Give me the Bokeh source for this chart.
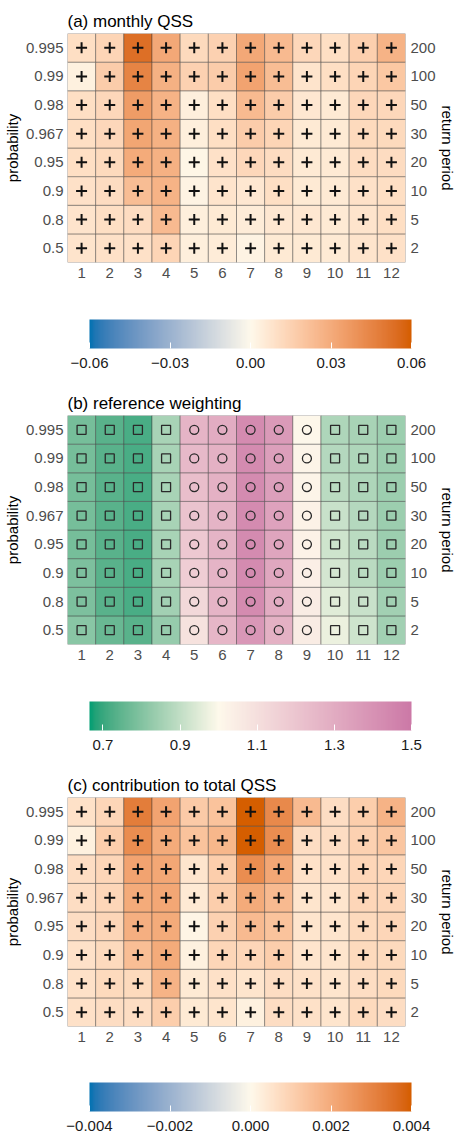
import numpy as np
from bokeh.plotting import figure
from bokeh.models import (FactorRange, ColumnDataSource, LinearColorMapper, ColorBar,
                          FixedTicker, CategoricalAxis, Title)
from bokeh.transform import transform
from bokeh.layouts import column
from bokeh.embed import file_html
from bokeh.resources import INLINE

# ---------------- data ----------------
months = ["1", "2", "3", "4", "5", "6", "7", "8", "9", "10", "11", "12"]
probabilities = ["0.5", "0.8", "0.9", "0.95", "0.967", "0.98", "0.99", "0.995"]
return_periods = ["2", "5", "10", "20", "30", "50", "100", "200"]

# rows follow `probabilities` (0.5 first), columns follow `months`
monthly_qss = [
    [0.008, 0.009, 0.009, 0.014, 0.004, 0.005, 0.002, 0.006, 0.006, 0.006, 0.008, 0.009],
    [0.008, 0.010, 0.011, 0.024, 0.004, 0.006, 0.005, 0.007, 0.007, 0.006, 0.008, 0.010],
    [0.009, 0.011, 0.023, 0.027, 0.002, 0.008, 0.007, 0.010, 0.006, 0.006, 0.009, 0.010],
    [0.010, 0.012, 0.030, 0.028, 0.001, 0.009, 0.013, 0.011, 0.006, 0.006, 0.011, 0.011],
    [0.010, 0.013, 0.032, 0.028, 0.004, 0.010, 0.017, 0.014, 0.006, 0.006, 0.012, 0.012],
    [0.010, 0.013, 0.036, 0.027, 0.004, 0.010, 0.024, 0.017, 0.007, 0.006, 0.013, 0.013],
    [0.003, 0.017, 0.045, 0.028, 0.015, 0.017, 0.033, 0.023, 0.008, 0.010, 0.014, 0.019],
    [0.010, 0.014, 0.053, 0.031, 0.012, 0.015, 0.031, 0.024, 0.013, 0.010, 0.016, 0.027],
]

reference_weighting = [
    [0.81, 0.76, 0.74, 0.83, 1.09, 1.26, 1.38, 1.28, 1.05, 0.97, 0.92, 0.85],
    [0.79, 0.74, 0.72, 0.85, 1.13, 1.27, 1.43, 1.30, 1.05, 0.95, 0.91, 0.85],
    [0.79, 0.74, 0.72, 0.86, 1.17, 1.27, 1.43, 1.32, 1.04, 0.93, 0.89, 0.84],
    [0.78, 0.74, 0.72, 0.86, 1.19, 1.27, 1.43, 1.33, 1.03, 0.92, 0.89, 0.84],
    [0.78, 0.74, 0.72, 0.86, 1.21, 1.27, 1.43, 1.34, 1.03, 0.91, 0.88, 0.84],
    [0.78, 0.74, 0.72, 0.86, 1.23, 1.28, 1.43, 1.35, 1.02, 0.89, 0.87, 0.84],
    [0.78, 0.74, 0.72, 0.86, 1.25, 1.28, 1.43, 1.35, 1.02, 0.88, 0.87, 0.84],
    [0.78, 0.74, 0.72, 0.86, 1.27, 1.30, 1.43, 1.37, 1.01, 0.87, 0.86, 0.84],
]

contribution_qss = [
    [0.0006, 0.0007, 0.0007, 0.0011, 0.0004, 0.0005, 0.0002, 0.0007, 0.0006, 0.0005, 0.0008, 0.0007],
    [0.0006, 0.0008, 0.0008, 0.0018, 0.0004, 0.0006, 0.0005, 0.0007, 0.0006, 0.0005, 0.0007, 0.0008],
    [0.0006, 0.0008, 0.0015, 0.0020, 0.0002, 0.0009, 0.0009, 0.0011, 0.0005, 0.0005, 0.0008, 0.0008],
    [0.0007, 0.0009, 0.0019, 0.0020, 0.0001, 0.0010, 0.0016, 0.0014, 0.0005, 0.0005, 0.0008, 0.0009],
    [0.0007, 0.0009, 0.0020, 0.0021, 0.0004, 0.0011, 0.0020, 0.0016, 0.0005, 0.0005, 0.0009, 0.0009],
    [0.0007, 0.0009, 0.0022, 0.0021, 0.0005, 0.0011, 0.0028, 0.0021, 0.0006, 0.0006, 0.0009, 0.0009],
    [0.0002, 0.0011, 0.0028, 0.0020, 0.0014, 0.0017, 0.0040, 0.0028, 0.0007, 0.0007, 0.0010, 0.0013],
    [0.0006, 0.0009, 0.0032, 0.0022, 0.0012, 0.0014, 0.0040, 0.0029, 0.0016, 0.0007, 0.0011, 0.0018],
]

qss_ticks = [-0.06, -0.03, 0.0, 0.03, 0.06]
qss_labels = ["\u22120.06", "\u22120.03", "0.00", "0.03", "0.06"]
weight_ticks = [0.7, 0.9, 1.1, 1.3, 1.5]
weight_labels = ["0.7", "0.9", "1.1", "1.3", "1.5"]
contrib_ticks = [-0.004, -0.002, 0.0, 0.002, 0.004]
contrib_labels = ["\u22120.004", "\u22120.002", "0.000", "0.002", "0.004"]

# ---------------- colour helpers (Lab interpolation) ----------------
_M = np.array([[0.4124564, 0.3575761, 0.1804375],
               [0.2126729, 0.7151522, 0.0721750],
               [0.0193339, 0.1191920, 0.9503041]])
_MI = np.linalg.inv(_M)
_WHITE = np.array([0.95047, 1.0, 1.08883])


def hex_to_lab(h):
    h = h.lstrip("#")
    rgb = np.array([int(h[i:i + 2], 16) / 255 for i in (0, 2, 4)])
    lin = np.where(rgb <= 0.04045, rgb / 12.92, ((rgb + 0.055) / 1.055) ** 2.4)
    t = (_M @ lin) / _WHITE
    d = 6 / 29
    f = np.where(t > d ** 3, np.cbrt(t), t / (3 * d * d) + 4 / 29)
    return np.array([116 * f[1] - 16, 500 * (f[0] - f[1]), 200 * (f[1] - f[2])])


def lab_to_hex(lab):
    L, a, b = lab
    fy = (L + 16) / 116
    f = np.array([fy + a / 500, fy, fy - b / 200])
    d = 6 / 29
    t = np.where(f > d, f ** 3, 3 * d * d * (f - 4 / 29))
    lin = np.clip(_MI @ (t * _WHITE), 0, 1)
    rgb = np.where(lin <= 0.0031308, 12.92 * lin, 1.055 * lin ** (1 / 2.4) - 0.055)
    rgb = np.clip(rgb, 0, 1)
    return "#%02x%02x%02x" % tuple(int(round(c * 255)) for c in rgb)


def palette(stops, n=256):
    pos = [s[0] for s in stops]
    labs = [hex_to_lab(s[1]) for s in stops]
    out = []
    for i in range(n):
        t = i / (n - 1)
        k = 0
        while k < len(pos) - 2 and t > pos[k + 1]:
            k += 1
        u = (t - pos[k]) / (pos[k + 1] - pos[k])
        out.append(lab_to_hex(labs[k] * (1 - u) + labs[k + 1] * u))
    return out


MID = "#FEF9EB"
div_pal = palette([(0, "#0072B2"), (0.5, MID), (1, "#D55E00")])
w_low, w_high = 0.665, 1.5
w_pal = palette([(0, "#009E73"), ((1 - w_low) / (w_high - w_low), MID), (1, "#CC79A7")])

qss_mapper = LinearColorMapper(palette=div_pal, low=-0.06, high=0.06)
w_mapper = LinearColorMapper(palette=w_pal, low=w_low, high=w_high)
c_mapper = LinearColorMapper(palette=div_pal, low=-0.004, high=0.004)

FONT = "Liberation Sans"
W = 453
FL, FW, FH = 66, 338, 229      # frame left border, frame width, frame height
FR = W - FL - FW
BAR_X = 88                     # colour bar left edge inside the figure


def make_source(values):
    xs, ys, vs, mk = [], [], [], []
    for r, prob in enumerate(probabilities):
        for c, m in enumerate(months):
            xs.append(m)
            ys.append(prob)
            v = values[r][c]
            vs.append(v)
            mk.append("square" if v < 1 else "circle")
    return ColumnDataSource(dict(m=xs, p=ys, v=vs, mk=mk))


def panel(title, values, mapper, kind, ticks, labels, top, bottom, bar_gap):
    p = figure(frame_width=FW, frame_height=FH, title=title,
               x_range=FactorRange(factors=months), y_range=FactorRange(factors=probabilities),
               output_backend="svg", toolbar_location=None,
               min_border_top=top, min_border_bottom=bottom, min_border_left=FL, min_border_right=FR)
    p.extra_y_ranges = {"rp": FactorRange(factors=return_periods)}
    p.outline_line_color = None
    p.grid.visible = False
    p.title.text_font = FONT
    p.title.text_font_size = "17px"
    p.title.text_font_style = "normal"
    p.title.text_color = "black"
    p.title.align = "left"
    p.title.standoff = 6
    p.title.offset = 0

    src = make_source(values)
    p.rect("m", "p", 1, 1, source=src, fill_color=transform("v", mapper),
           line_color="#3a3a3a", line_alpha=0.55, line_width=0.8)
    if kind == "cross":
        p.scatter("m", "p", source=src, marker="cross", size=11, line_width=2, line_color="#111111")
    else:
        p.scatter("m", "p", source=src, marker="mk", size=9, fill_color=None,
                  line_color="#2a2a2a", line_width=1.3)

    right = CategoricalAxis(y_range_name="rp")
    p.add_layout(right, "right")
    p.yaxis[0].axis_label = "probability"
    for ax in [p.xaxis[0], p.yaxis[0], right]:
        ax.axis_line_color = None
        ax.major_tick_line_color = None
        ax.major_tick_out = 0
        ax.major_tick_in = 0
        ax.minor_tick_line_color = None
        ax.minor_tick_out = 0
        ax.major_label_text_font = FONT
        ax.major_label_text_font_size = "15px"
        ax.major_label_text_color = "#4d4d4d"
        ax.axis_label_text_font = FONT
        ax.axis_label_text_font_size = "15px"
        ax.axis_label_text_font_style = "normal"
        ax.axis_label_text_color = "black"
    p.xaxis[0].major_label_standoff = 5
    p.yaxis[0].major_label_standoff = 4
    p.yaxis[0].axis_label_standoff = 2
    right.major_label_standoff = 5

    # right-hand axis title
    p.add_layout(Title(text="return period", align="center", standoff=0, offset=0,
                       text_font=FONT, text_font_size="15px", text_font_style="normal",
                       text_color="black"), "right")

    cb = ColorBar(color_mapper=mapper, orientation="horizontal", width=322, height=29,
                  padding=0, margin=0, location=(BAR_X - FL, -(bar_gap + 50)),
                  ticker=FixedTicker(ticks=ticks),
                  major_label_overrides=dict(zip(ticks, labels)),
                  major_label_text_font=FONT, major_label_text_font_size="15px",
                  major_label_text_color="#1a1a1a", label_standoff=9,
                  major_tick_line_color="white", major_tick_in=6, major_tick_out=0,
                  minor_tick_line_color=None, bar_line_color=None,
                  background_fill_alpha=0, border_line_color=None)
    p.add_layout(cb, "center")
    return p


pa = panel("(a) monthly QSS", monthly_qss, qss_mapper, "cross",
           qss_ticks, qss_labels, 33, 113, 58)
pb = panel("(b) reference weighting", reference_weighting, w_mapper, "shape",
           weight_ticks, weight_labels, 40, 112, 58)
pc = panel("(c) contribution to total QSS", contribution_qss, c_mapper, "cross",
           contrib_ticks, contrib_labels, 41, 108, 57)

layout = column(pa, pb, pc)
open("out.html", "w").write(file_html(layout, INLINE))
